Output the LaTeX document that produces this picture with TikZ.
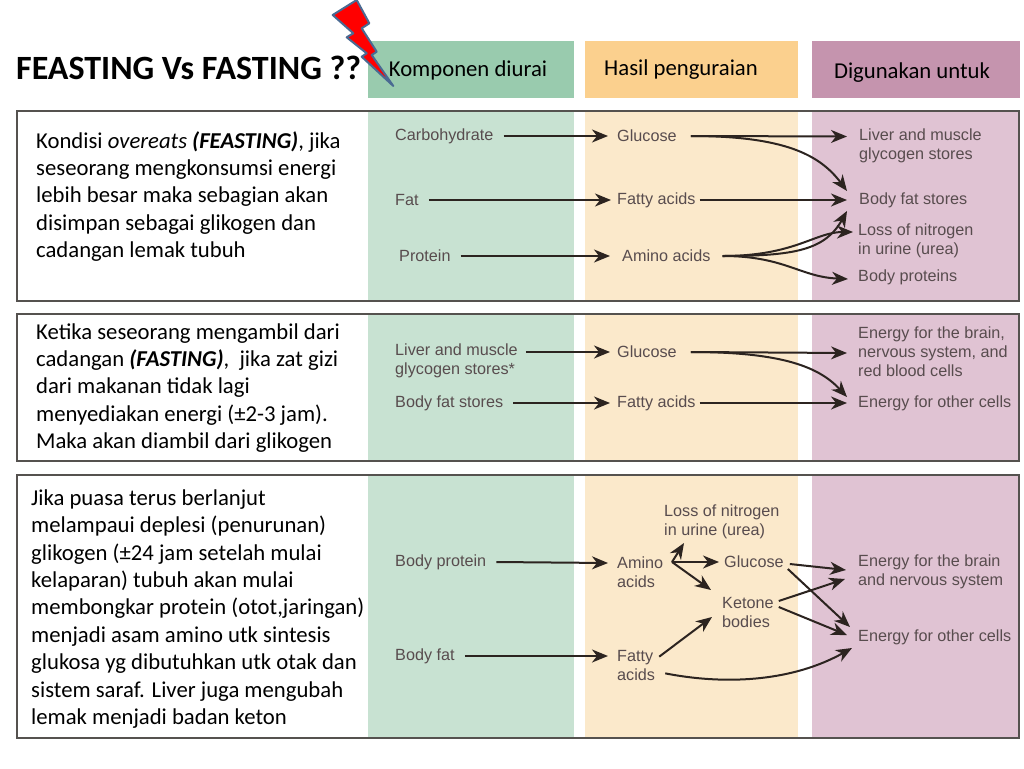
\documentclass[tikz,border=0pt]{standalone}
\usepackage{fontspec}
\setmainfont{Carlito}
\newfontfamily\labelfont{Liberation Sans}
\usetikzlibrary{arrows.meta}
\definecolor{hgreen}{HTML}{99CBAE}
\definecolor{horange}{HTML}{FBD08E}
\definecolor{hpurple}{HTML}{C594AE}
\definecolor{bgreen}{HTML}{C8E2D2}
\definecolor{borange}{HTML}{FBE9CB}
\definecolor{bpurple}{HTML}{E0C3D3}
\definecolor{framec}{HTML}{55524F}
\definecolor{labelc}{HTML}{584C4E}
\definecolor{arrowc}{HTML}{2C2420}
\definecolor{boltedge}{HTML}{4A6A92}
\tikzset{
  x=1pt,y=-1pt,
  frame/.style={draw=framec,line width=1.8pt},
  body/.style={anchor=west,inner sep=0pt,align=left,text=black,font={\fontsize{22.7}{27.4}\selectfont}},
  head/.style={anchor=center,inner sep=0pt,text=black,font={\fontsize{22.7}{26}\selectfont}},
  lab/.style={anchor=west,inner sep=0pt,align=left,text=labelc,yshift=-1pt,font={\labelfont\fontsize{16.2}{19}\selectfont}},
  conn/.style={draw=arrowc,line width=2pt,-{Stealth[length=16pt,width=13pt,inset=5pt]}},
}
\begin{document}
\begin{tikzpicture}
\useasboundingbox (0,0) rectangle (1024,768);
\fill[white] (0,0) rectangle (1024,768);
% header bands
\fill[hgreen] (368,41) rectangle (574,98);
\fill[horange] (585,41) rectangle (798,98);
\fill[hpurple] (812,41) rectangle (1020,98);
% body bands
\foreach \ya/\yb in {110/301,314/461,475/738}{
  \fill[bgreen] (368,\ya) rectangle (574,\yb);
  \fill[borange] (585,\ya) rectangle (798,\yb);
  \fill[bpurple] (812,\ya) rectangle (1019,\yb);
}
\draw[frame] (17,111) rectangle (1019,301);
\draw[frame] (17,314) rectangle (1019,461);
\draw[frame] (17,475) rectangle (1019,738);
% title
\node[anchor=west,inner sep=0pt,font={\fontsize{34}{40}\selectfont\bfseries}] (title) at (16,68) {FEASTING Vs FASTING ??};
\node[head] (h1) at (468,70) {Komponen diurai};
\node[head] (h2) at (681,70) {Hasil penguraian};
\node[head] (h3) at (912,73) {Digunakan untuk};
% bolt
\filldraw[fill=red,draw=boltedge,line width=2pt,line join=round]
 (332.7,15)--(356.7,0)--(369.3,23.3)--(361.7,28.3)--(376.7,51.7)--(371.7,55)--(393.3,86)--(361.7,56.7)--(366.7,53.3)--(346.7,37.3)--(353.3,33.3)--cycle;
% left texts
\node[body] (t1) at (36,196.5) {Kondisi \textit{overeats} \textbf{\textit{(FEASTING)}}, jika\\seseorang mengkonsumsi energi\\lebih besar maka sebagian akan\\disimpan sebagai glikogen dan\\cadangan lemak tubuh};
\node[body] (t2) at (36,388) {Ketika seseorang mengambil dari\\cadangan \textbf{\textit{(FASTING)}},\ \ jika zat gizi\\dari makanan tidak lagi\\menyediakan energi (±2-3 jam).\\Maka akan diambil dari glikogen};
\node[body] (t3) at (31,609) {Jika puasa terus berlanjut\\melampaui deplesi (penurunan)\\glikogen (±24 jam setelah mulai\\kelaparan) tubuh akan mulai\\membongkar protein (otot,jaringan)\\menjadi asam amino utk sintesis\\glukosa yg dibutuhkan utk otak dan\\sistem saraf. Liver juga mengubah\\lemak menjadi badan keton};
% panel 1 labels
\node[lab] (carb) at (395,135) {Carbohydrate};
\node[lab] (fat) at (395,199) {Fat};
\node[lab] (prot) at (399,255) {Protein};
\node[lab] (gluA) at (617,135) {Glucose};
\node[lab] (faA) at (617,199) {Fatty acids};
\node[lab] (amA) at (622,255) {Amino acids};
\node[lab] (liver) at (859,145) {Liver and muscle\\glycogen stores};
\node[lab] (bfs) at (859,199) {Body fat stores};
\node[lab] (lossA) at (858,240) {Loss of nitrogen\\in urine (urea)};
\node[lab] (bp) at (858,276) {Body proteins};
% panel 2 labels
\node[lab] (liverB) at (395,360) {Liver and muscle\\glycogen stores*};
\node[lab] (bfsB) at (395,402) {Body fat stores};
\node[lab] (gluB) at (617,351) {Glucose};
\node[lab] (faB) at (617,402) {Fatty acids};
\node[lab] (enB) at (858,351) {Energy for the brain,\\nervous system, and\\red blood cells};
\node[lab] (ocB) at (858,402) {Energy for other cells};
% panel 3 labels
\node[lab] (bpC) at (395,561) {Body protein};
\node[lab] (bfC) at (395,655) {Body fat};
\node[lab] (amC) at (617,571) {Amino\\acids};
\node[lab] (gluC) at (724,561) {Glucose};
\node[lab] (ket) at (722,611) {Ketone\\bodies};
\node[lab] (faC) at (617,664) {Fatty\\acids};
\node[lab] (lossC) at (664,521) {Loss of nitrogen\\in urine (urea)};
\node[lab] (enC) at (858,571) {Energy for the brain\\and nervous system};
\node[lab] (ocC) at (858,636) {Energy for other cells};
% panel 1 connectors
\draw[conn] ([xshift=10pt]carb.east) -- ([xshift=-9pt]gluA.west);
\draw[conn] ([xshift=10pt]fat.east) -- ([xshift=-6pt]faA.west);
\draw[conn] ([xshift=10pt]prot.east) -- ([xshift=-12pt]amA.west);
\draw[conn] ([xshift=14pt]gluA.east) -- ([xshift=-12pt,yshift=9.5pt]liver.west);
\draw[conn] ([xshift=14pt]gluA.east) .. controls (785,136) and (820,155) .. ([xshift=-12pt,yshift=9pt]bfs.west);
\draw[conn] ([xshift=4pt]faA.east) -- ([xshift=-12pt]bfs.west);
\draw[conn] ([xshift=12pt]amA.east) .. controls (795,256) and (825,250) .. ([xshift=-12pt,yshift=-11pt]bfs.west);
\draw[conn] ([xshift=12pt]amA.east) .. controls (795,256) and (815,232) .. ([xshift=-5pt,yshift=9pt]lossA.west);
\draw[conn] ([xshift=12pt]amA.east) .. controls (785,256) and (800,277) .. ([xshift=-10pt,yshift=-2pt]bp.west);
% panel 2 connectors
\draw[conn] ([xshift=8pt,yshift=9pt]liverB.east) -- ([xshift=-7pt]gluB.west);
\draw[conn] ([xshift=10pt]bfsB.east) -- ([xshift=-7pt]faB.west);
\draw[conn] ([xshift=14pt]gluB.east) -- ([xshift=-11pt,yshift=-1pt]enB.west);
\draw[conn] ([xshift=14pt]gluB.east) .. controls (785,352) and (820,368) .. ([xshift=-11pt,yshift=6pt]ocB.west);
\draw[conn] ([xshift=4pt]faB.east) -- ([xshift=-11pt]ocB.west);
% panel 3 connectors
\coordinate (fork) at (672,562);
\draw[conn] ([xshift=10pt]bpC.east) -- ([xshift=-9pt,yshift=9pt]amC.west);
\draw[conn] ([xshift=10pt]bfC.east) -- ([xshift=-9pt,yshift=9pt]faC.west);
\draw[conn] (fork) -- ([xshift=-5pt]gluC.west);
\draw[conn] (fork) -- (684,543);
\draw[conn] (fork) -- ([xshift=-11pt,yshift=22pt]ket.west);
\draw[conn] ([xshift=4pt,yshift=-7pt]faC.north east) -- ([xshift=-10pt,yshift=-5pt]ket.west);
\draw[conn] ([xshift=10pt,yshift=7pt]faC.south east) .. controls (730,686) and (795,680) .. ([xshift=-6pt,yshift=-11pt]ocC.west);
\draw[conn] ([xshift=6pt,yshift=-2pt]gluC.east) -- ([xshift=-12pt,yshift=2pt]enC.west);
\draw[conn] ([xshift=4pt,yshift=-7pt]gluC.east) -- ([xshift=-8pt,yshift=10pt]ocC.west);
\draw[conn] ([xshift=5pt,yshift=11pt]ket.east) -- ([xshift=-13pt,yshift=-7pt]enC.west);
\draw[conn] ([xshift=5pt,yshift=5pt]ket.east) -- ([xshift=-11pt,yshift=2pt]ocC.west);
\end{tikzpicture}
\end{document}
